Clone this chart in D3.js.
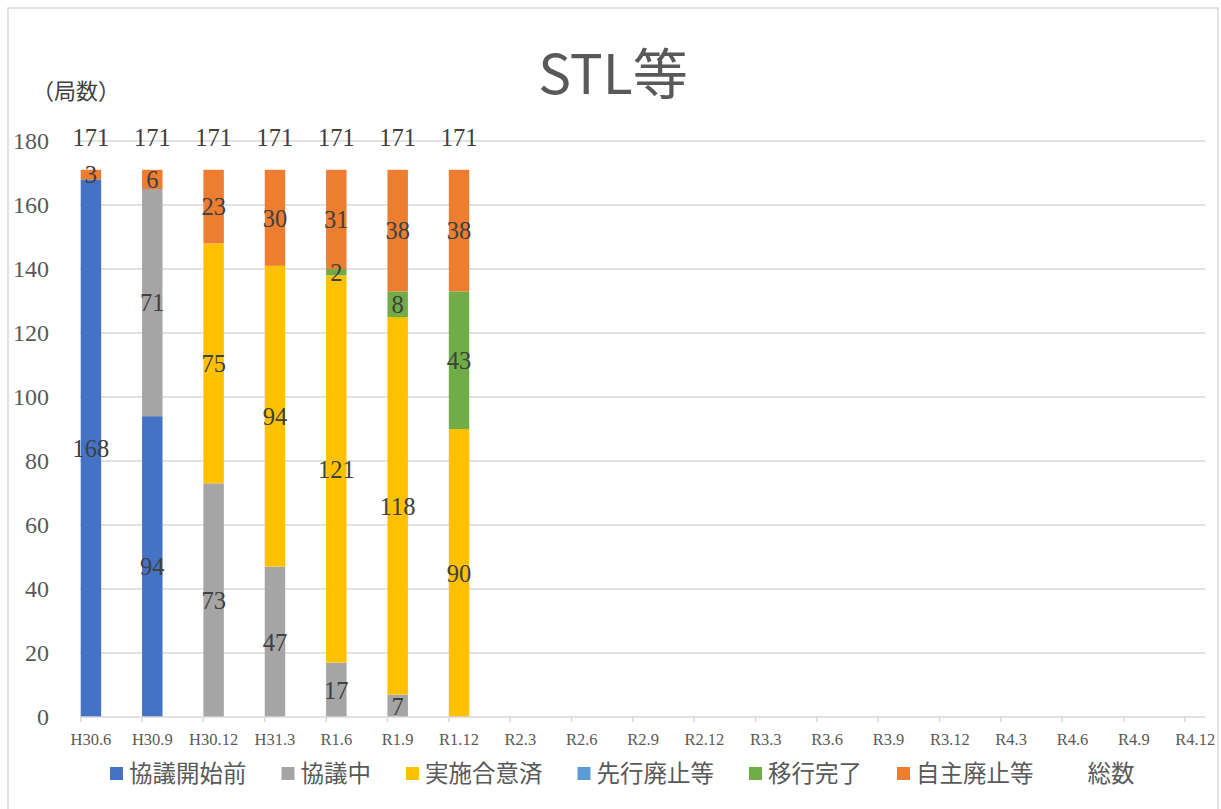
<!DOCTYPE html>
<html>
<head>
<meta charset="utf-8">
<script src="https://cdn.jsdelivr.net/npm/d3@7"></script>
<style>
  html, body { margin: 0; padding: 0; background: #fff; }
  svg { display: block; }
</style>
</head>
<body>
<svg id="chart" width="1221" height="809"></svg>
<script>
// ---- data ----
const categories = ["H30.6","H30.9","H30.12","H31.3","R1.6","R1.9","R1.12","R2.3","R2.6","R2.9","R2.12","R3.3","R3.6","R3.9","R3.12","R4.3","R4.6","R4.9","R4.12"];
const seriesNames = ["協議開始前","協議中","実施合意済","先行廃止等","移行完了","自主廃止等"];
const seriesColors = ["#4472C4","#A5A5A5","#FFC000","#5B9BD5","#70AD47","#ED7D31"];
const s_kaishimae = [168, 94, 0, 0, 0, 0, 0];
const s_kyogichu  = [0, 71, 73, 47, 17, 7, 0];
const s_goi       = [0, 0, 75, 94, 121, 118, 90];
const s_senko     = [0, 0, 0, 0, 0, 0, 0];
const s_iko       = [0, 0, 0, 0, 2, 8, 43];
const s_jishu     = [3, 6, 23, 30, 31, 38, 38];
const totals      = [171, 171, 171, 171, 171, 171, 171];
const yTicks = [0,20,40,60,80,100,120,140,160,180];
const totalName = "総数";
const titleText = "STL等";
const unitText = "（局数）";

const seriesValues = [s_kaishimae, s_kyogichu, s_goi, s_senko, s_iko, s_jishu];
const rows = categories.map((c, i) => {
  const r = { cat: c };
  seriesNames.forEach((n, k) => { r[n] = seriesValues[k][i] || 0; });
  return r;
});

// ---- layout ----
const svg = d3.select("#chart");
const plotLeft = 80, plotRight = 1205, plotTop = 141, plotBottom = 717;
const step = 61.35;
const x = d3.scaleBand().domain(categories)
  .range([80.7, 80.7 + step * categories.length]).paddingInner(0).paddingOuter(0);
const barW = x.bandwidth() / 3;
const y = d3.scaleLinear().domain([0, 180]).range([plotBottom, plotTop]);

const serif = "'Liberation Serif', 'DejaVu Serif', serif";
const cjk = "'Noto Sans CJK JP', 'Noto Sans', sans-serif";

// chart border
svg.append("rect").attr("x", 8).attr("y", 8).attr("width", 1210).attr("height", 820)
  .attr("fill", "none").attr("stroke", "#D9D9D9").attr("stroke-width", 1.5);

// title
svg.append("text").attr("x", 613).attr("y", 94).attr("text-anchor", "middle")
  .attr("font-family", cjk).attr("font-size", 55).attr("fill", "#595959").text(titleText);

// unit label
svg.append("text").attr("x", 32).attr("y", 99)
  .attr("font-family", cjk).attr("font-size", 22).attr("fill", "#404040").text(unitText);

// gridlines
svg.append("g").selectAll("line").data(yTicks.filter(t => t > 0)).join("line")
  .attr("x1", plotLeft).attr("x2", plotRight)
  .attr("y1", d => y(d)).attr("y2", d => y(d))
  .attr("stroke", "#D9D9D9").attr("stroke-width", 1.5);

// y axis labels
const yAxis = d3.axisLeft(y).tickValues(yTicks).tickSize(0).tickPadding(0);
const gy = svg.append("g").attr("transform", "translate(49,0)").call(yAxis);
gy.select(".domain").remove();
gy.selectAll("text").attr("font-family", serif).attr("font-size", 24)
  .attr("fill", "#595959").attr("dy", "0.33em");

// stacked bars
const stack = d3.stack().keys(seriesNames);
const stacked = stack(rows);
const gBars = svg.append("g");
stacked.forEach((layer, k) => {
  gBars.append("g").attr("fill", seriesColors[k])
    .selectAll("rect").data(layer.filter(d => d.data[seriesNames[k]] > 0)).join("rect")
    .attr("x", d => x(d.data.cat))
    .attr("width", barW)
    .attr("y", d => y(d[1]))
    .attr("height", d => y(d[0]) - y(d[1]));
});

// segment labels
stacked.forEach((layer, k) => {
  gBars.append("g").selectAll("text")
    .data(layer.filter(d => d.data[seriesNames[k]] > 0)).join("text")
    .attr("x", d => x(d.data.cat) + barW / 2)
    .attr("y", d => (y(d[0]) + y(d[1])) / 2)
    .attr("dy", "0.36em")
    .attr("text-anchor", "middle")
    .attr("font-family", serif).attr("font-size", 24.5).attr("fill", "#404040")
    .text(d => d.data[seriesNames[k]]);
});

// total labels
svg.append("g").selectAll("text").data(totals).join("text")
  .attr("x", (d, i) => x(categories[i]) + barW / 2)
  .attr("y", y(180) + 5)
  .attr("text-anchor", "middle")
  .attr("font-family", serif).attr("font-size", 24.5).attr("fill", "#404040")
  .text(d => d);

// x axis
const gx = svg.append("g").attr("transform", `translate(0,${plotBottom})`);
gx.append("line").attr("x1", plotLeft).attr("x2", plotRight)
  .attr("stroke", "#D9D9D9").attr("stroke-width", 1.5);
gx.selectAll("line.tick").data(categories).join("line").attr("class", "tick")
  .attr("x1", d => x(d)).attr("x2", d => x(d)).attr("y1", 0).attr("y2", 5)
  .attr("stroke", "#D9D9D9").attr("stroke-width", 1.5);
gx.selectAll("text").data(categories).join("text")
  .attr("x", d => x(d) + barW / 2).attr("y", 28)
  .attr("text-anchor", "middle")
  .attr("font-family", serif).attr("font-size", 16.5).attr("fill", "#595959")
  .text(d => d);

// legend
const legend = svg.append("g");
let lx = 110;
const legItems = seriesNames.map((n, k) => ({ name: n, color: seriesColors[k] }))
  .concat([{ name: totalName, color: "none" }]);
legItems.forEach((it, k) => {
  legend.append("rect").attr("x", lx).attr("y", 767).attr("width", 13).attr("height", 13)
    .attr("fill", it.color);
  const t = legend.append("text").attr("x", lx + 19).attr("y", 782)
    .attr("font-family", cjk).attr("font-size", 23.5).attr("fill", "#595959").text(it.name);
  const w = t.node().getComputedTextLength();
  lx += 19 + w + 35;
});
</script>
</body>
</html>
